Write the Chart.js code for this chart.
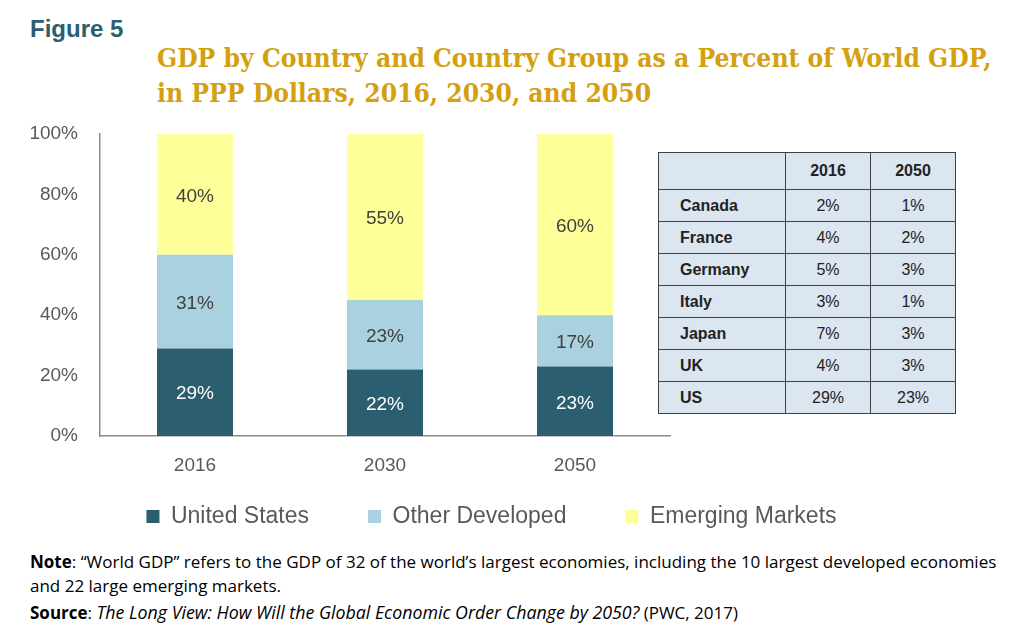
<!DOCTYPE html>
<html>
<head>
<meta charset="utf-8">
<script src="https://cdn.jsdelivr.net/npm/chart.js@4"></script>
<style>
  body { margin: 0; background: #fff; width: 1024px; height: 633px; position: relative; overflow: hidden; font-family: "Liberation Sans", Arial, sans-serif; }
  #fig { position: absolute; left: 30px; top: 15px; font: bold 24px "Liberation Sans", sans-serif; color: #2b5e6e; }
  #title { position: absolute; left: 157px; top: 41px; font: bold 26px "DejaVu Serif", serif; color: #d4a010; line-height: 35px; white-space: nowrap; transform: scaleX(0.907); transform-origin: left top; }
  #wrap { position: absolute; left: 0; top: 120px; width: 983px; height: 418px; }
  #tbl { position: absolute; left: 658px; top: 152px; border-collapse: collapse; background: #dce6f1; font-size: 16px; color: #222; }
  #tbl td { border: 1.5px solid #404040; height: 31px; padding: 0; text-align: center; }
  #tbl td.c { text-align: left; padding-left: 21px; font-weight: bold; width: 105px; }
  #tbl td.v { width: 84px; }
  #tbl tr.h td { height: 36px; font-weight: bold; }
  #note { position: absolute; left: 30px; top: 550px; font: 17px "Open Sans", sans-serif; line-height: 24px; color: #000; white-space: nowrap; }
  #note p { margin: 0; }
  #note p.src { margin-top: 2px; }
  #note p.src i { font-size: 17.8px; }
</style>
</head>
<body>
<div id="fig">Figure 5</div>
<div id="title">GDP by Country and Country Group as a Percent of World GDP,<br>in PPP Dollars, 2016, 2030, and 2050</div>
<div id="wrap"><canvas id="c"></canvas></div>
<table id="tbl"></table>
<div id="note">
  <p><b>Note</b>: “World GDP” refers to the GDP of 32 of the world’s largest economies, including the 10 largest developed economies<br>and 22 large emerging markets.</p>
  <p class="src"><b>Source</b>: <i>The Long View: How Will the Global Economic Order Change by 2050?</i> (PWC, 2017)</p>
</div>
<script>
// bar chart data (percent of world GDP)
const years = ['2016', '2030', '2050'];
const unitedStates = [29, 22, 23];
const otherDeveloped = [31, 23, 17];
const emergingMarkets = [40, 55, 60];
const yTicks = [0, 20, 40, 60, 80, 100];

// side table data
const tableYears = ['2016', '2050'];
const countries = ['Canada', 'France', 'Germany', 'Italy', 'Japan', 'UK', 'US'];
const share2016 = [2, 4, 5, 3, 7, 4, 29];
const share2050 = [1, 2, 3, 1, 3, 3, 23];

const tbl = document.getElementById('tbl');
let html = '<tr class="h"><td class="c"></td>' + tableYears.map(y => `<td class="v">${y}</td>`).join('') + '</tr>';
countries.forEach((c, i) => {
    html += `<tr><td class="c">${c}</td><td class="v">${share2016[i]}%</td><td class="v">${share2050[i]}%</td></tr>`;
});
tbl.innerHTML = html;

const textColor = '#595959';
const axisColor = '#8c8c8c';
const font = '"Liberation Sans", sans-serif';

// value labels in the middle of each stacked segment
const segLabels = {
    id: 'segLabels',
    afterDatasetsDraw(chart) {
        const c = chart.ctx;
        c.save();
        c.font = '19px ' + font;
        c.textAlign = 'center';
        c.textBaseline = 'middle';
        chart.data.datasets.forEach((ds, di) => {
            const meta = chart.getDatasetMeta(di);
            c.fillStyle = di === 0 ? '#ffffff' : '#404040';
            meta.data.forEach((bar, i) => {
                const { x, y, base } = bar.getProps(['x', 'y', 'base'], true);
                c.fillText(ds.data[i] + '%', x, (y + base) / 2 + 2);
            });
        });
        c.restore();
    }
};

new Chart(document.getElementById('c'), {
    type: 'bar',
    data: {
        labels: years,
        datasets: [
            { label: 'United States', data: unitedStates, backgroundColor: '#2b5e6e' },
            { label: 'Other Developed', data: otherDeveloped, backgroundColor: '#a9d1df' },
            { label: 'Emerging Markets', data: emergingMarkets, backgroundColor: '#ffff99' }
        ]
    },
    options: {
        responsive: true, maintainAspectRatio: false, animation: false,
        layout: { padding: { top: 14, bottom: 0, left: 0, right: 0 }, autoPadding: false },
        datasets: { bar: { barPercentage: 1, categoryPercentage: 0.4, borderWidth: 0 } },
        plugins: {
            tooltip: { enabled: false },
            legend: {
                position: 'bottom',
                labels: { color: textColor, font: { size: 23, family: font }, boxWidth: 13, boxHeight: 13, padding: 59 }
            }
        },
        scales: {
            x: {
                stacked: true,
                grid: { display: false, drawTicks: false },
                border: { display: true, color: axisColor, width: 1.5 },
                // mirrored so the labels are not clipped to the thin axis box
                ticks: { color: textColor, font: { size: 19, family: font }, mirror: true, padding: -41 },
                afterFit: s => { s.height = 10; }
            },
            y: {
                stacked: true, min: 0, max: 100,
                afterBuildTicks: s => { s.ticks = yTicks.map(v => ({ value: v })); },
                grid: { display: false, drawTicks: false },
                border: { display: true, color: axisColor, width: 1.5 },
                ticks: { color: textColor, font: { size: 19, family: font }, padding: 22, callback: v => v + '%' },
                afterFit: s => { s.width = 100; s.paddingTop = 0; s.paddingBottom = 0; }
            },
            pad: {
                position: 'right', display: true,
                grid: { display: false, drawTicks: false },
                border: { display: false },
                ticks: { display: false },
                afterFit: s => { s.width = 313; }
            }
        }
    },
    plugins: [segLabels]
});
</script>
</body>
</html>
